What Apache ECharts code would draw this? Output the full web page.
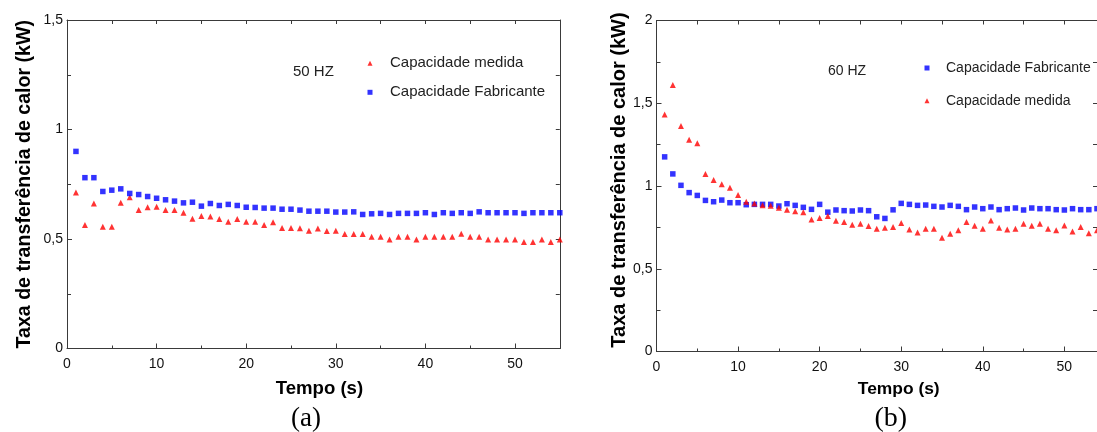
<!DOCTYPE html>
<html>
<head>
<meta charset="utf-8">
<script src="https://cdn.jsdelivr.net/npm/echarts@6/dist/echarts.min.js"></script>
<style>
html,body{margin:0;padding:0;background:#fff;}
#c{width:1097px;height:432px;}
</style>
</head>
<body>
<div id="c"></div>
<script>
// ---- Data (a) 50 Hz ----
var timeA = [1,2,3,4,5,6,7,8,9,10,11,12,13,14,15,16,17,18,19,20,21,22,23,24,25,26,27,28,29,30,31,32,33,34,35,36,37,38,39,40,41,42,43,44,45,46,47,48,49,50,51,52,53,54,55];
var fabricanteA = [0.900,0.780,0.780,0.717,0.723,0.729,0.708,0.703,0.694,0.686,
  0.679,0.673,0.665,0.668,0.650,0.662,0.653,0.658,0.653,0.645,
  0.644,0.641,0.641,0.636,0.636,0.632,0.627,0.627,0.627,0.623,
  0.623,0.624,0.612,0.615,0.617,0.612,0.617,0.617,0.617,0.620,
  0.612,0.620,0.617,0.620,0.617,0.624,0.620,0.620,0.620,0.620,
  0.617,0.620,0.620,0.620,0.620];
var medidaA = [0.712,0.564,0.662,0.556,0.556,0.665,0.691,0.632,0.645,0.647,
  0.632,0.632,0.620,0.592,0.605,0.603,0.591,0.579,0.591,0.579,
  0.579,0.564,0.577,0.550,0.550,0.549,0.538,0.548,0.536,0.538,
  0.523,0.523,0.523,0.510,0.510,0.498,0.510,0.510,0.498,0.510,
  0.510,0.510,0.510,0.524,0.510,0.510,0.498,0.498,0.498,0.498,
  0.486,0.486,0.498,0.486,0.498];

// ---- Data (b) 60 Hz ----
var timeB = [1,2,3,4,5,6,7,8,9,10,11,12,13,14,15,16,17,18,19,20,21,22,23,24,25,26,27,28,29,30,31,32,33,34,35,36,37,38,39,40,41,42,43,44,45,46,47,48,49,50,51,52,53,54];
var fabricanteB = [1.176,1.073,1.004,0.960,0.943,0.913,0.905,0.915,0.899,0.899,
  0.887,0.889,0.889,0.889,0.879,0.893,0.883,0.871,0.859,0.889,
  0.842,0.855,0.851,0.849,0.855,0.851,0.814,0.804,0.856,0.895,
  0.889,0.883,0.885,0.877,0.873,0.883,0.877,0.857,0.873,0.863,
  0.873,0.857,0.863,0.867,0.855,0.867,0.863,0.863,0.857,0.855,
  0.863,0.857,0.857,0.863];
var medidaB = [1.432,1.610,1.362,1.279,1.259,1.073,1.036,1.010,0.990,0.945,
  0.905,0.895,0.883,0.881,0.869,0.857,0.848,0.842,0.798,0.806,
  0.818,0.790,0.782,0.766,0.772,0.758,0.741,0.747,0.753,0.776,
  0.737,0.719,0.741,0.741,0.687,0.711,0.733,0.782,0.760,0.741,
  0.792,0.747,0.737,0.741,0.772,0.760,0.772,0.741,0.733,0.762,
  0.725,0.753,0.715,0.733];

// ---- Text ----
var nameMedida = 'Capacidade medida';
var nameFabricante = 'Capacidade Fabricante';
var xTitle = 'Tempo (s)';
var yTitle = 'Taxa de transferência de calor (kW)';
var panelLabels = ['(a)', '(b)'];
var freqLabels = ['50 HZ', '60 HZ'];

function pairs(t, v){ return t.map(function(x,i){ return [x, v[i]]; }); }
function fmtComma(v){ return String(v).replace('.', ','); }

var FONT = 'Liberation Sans, Arial, sans-serif';
var AX = '#3a3a3a';
var RED = '#ff0000', BLUE = '#0000ff';

function bottomX(grid, max, nameSize, shift, gap){
  return {
    type:'value', gridIndex:grid, position:'bottom', min:0, max:max, interval:10,
    axisLine:{show:true, onZero:false, lineStyle:{color:AX, width:1}},
    axisTick:{show:true, inside:true, length:5, lineStyle:{color:AX}},
    minorTick:{show:true, splitNumber:2, length:3, lineStyle:{color:AX}},
    splitLine:{show:false}, minorSplitLine:{show:false},
    axisLabel:{show:true, margin:9, fontSize:14, color:'#111', fontFamily:FONT, showMaxLabel:false},
    name:xTitle, nameLocation:'middle', nameGap:gap,
    nameTextStyle:{fontSize:nameSize, fontWeight:'bold', color:'#000', fontFamily:FONT, padding:[0,0,0,shift]}
  };
}
function topX(grid, max){
  return {
    type:'value', gridIndex:grid, position:'top', min:0, max:max, interval:5,
    axisLine:{show:true, onZero:false, lineStyle:{color:AX, width:1}},
    axisTick:{show:true, inside:true, length:4, lineStyle:{color:AX}},
    axisLabel:{show:false}, splitLine:{show:false}
  };
}
function leftY(grid, max, nameSize, gap, pad){
  return {
    type:'value', gridIndex:grid, position:'left', min:0, max:max, interval:0.5,
    axisLine:{show:true, onZero:false, lineStyle:{color:AX, width:1}},
    axisTick:{show:true, inside:true, length:5, lineStyle:{color:AX}},
    minorTick:{show:true, splitNumber:2, length:4, lineStyle:{color:AX}},
    splitLine:{show:false}, minorSplitLine:{show:false},
    axisLabel:{show:true, margin:4, fontSize:14, color:'#111', fontFamily:FONT, formatter:fmtComma},
    name:yTitle, nameLocation:'middle', nameGap:gap, nameRotate:90,
    nameTextStyle:{fontSize:nameSize, fontWeight:'bold', color:'#000', fontFamily:FONT, padding:pad}
  };
}
function rightY(grid, max){
  return {
    type:'value', gridIndex:grid, position:'right', min:0, max:max, interval:0.25,
    axisLine:{show:true, onZero:false, lineStyle:{color:AX, width:1}},
    axisTick:{show:true, inside:true, length:4, lineStyle:{color:AX}},
    axisLabel:{show:false}, splitLine:{show:false}
  };
}

var chart = echarts.init(document.getElementById('c'), null, {renderer:'canvas'});
chart.setOption({
  animation:false,
  backgroundColor:'#fff',
  grid:[
    {left:67, top:20, width:492.8, height:328.5},
    {left:656.5, top:20.5, width:441, height:331}
  ],
  xAxis:[
    bottomX(0, 55, 18.6, 12, 31),
    topX(0, 55),
    bottomX(1, 54, 17.4, 44, 29.5),
    topX(1, 54)
  ],
  yAxis:[
    leftY(0, 1.5, 19.6, 32, [0,0,0,0]),
    rightY(0, 1.5),
    leftY(1, 2, 20, 26.5, [0,0,0,12]),
    rightY(1, 2)
  ],
  title:[
    {text:panelLabels[0], left:306, top:405, textAlign:'center', padding:0,
     textStyle:{fontFamily:'Liberation Serif, Times New Roman, serif', fontSize:27, fontWeight:'normal', color:'#000'}},
    {text:panelLabels[1], left:890.7, top:405, textAlign:'center', padding:0,
     textStyle:{fontFamily:'Liberation Serif, Times New Roman, serif', fontSize:28, fontWeight:'normal', color:'#000'}},
    {text:freqLabels[0], left:293, top:64, padding:0,
     textStyle:{fontFamily:FONT, fontSize:15, fontWeight:'normal', color:'#222'}},
    {text:freqLabels[1], left:828, top:64, padding:0,
     textStyle:{fontFamily:FONT, fontSize:14, fontWeight:'normal', color:'#222'}}
  ],
  legend:[
    {data:[nameMedida, nameFabricante], orient:'vertical', left:367.5, top:55.8, padding:0,
     itemWidth:5, itemHeight:5, itemGap:14, selectedMode:false,
     textStyle:{fontFamily:FONT, fontSize:15, lineHeight:15, color:'#222', padding:[0,0,0,12.5]}},
    {data:[nameFabricante, nameMedida], orient:'vertical', left:924.5, top:61, padding:0,
     itemWidth:5, itemHeight:5, itemGap:18.7, selectedMode:false,
     textStyle:{fontFamily:FONT, fontSize:14, lineHeight:14, color:'#222', padding:[0,0,0,11.5]}}
  ],
  series:[
    {type:'scatter', name:nameMedida, xAxisIndex:0, yAxisIndex:0, symbol:'triangle', symbolSize:6,
     itemStyle:{color:RED}, data:pairs(timeA, medidaA)},
    {type:'scatter', name:nameFabricante, xAxisIndex:0, yAxisIndex:0, symbol:'rect', symbolSize:5.5,
     itemStyle:{color:BLUE}, data:pairs(timeA, fabricanteA)},
    {type:'scatter', name:nameFabricante, xAxisIndex:2, yAxisIndex:2, symbol:'rect', symbolSize:5.5,
     itemStyle:{color:BLUE}, data:pairs(timeB, fabricanteB)},
    {type:'scatter', name:nameMedida, xAxisIndex:2, yAxisIndex:2, symbol:'triangle', symbolSize:6,
     itemStyle:{color:RED}, data:pairs(timeB, medidaB)}
  ]
});
</script>
</body>
</html>
